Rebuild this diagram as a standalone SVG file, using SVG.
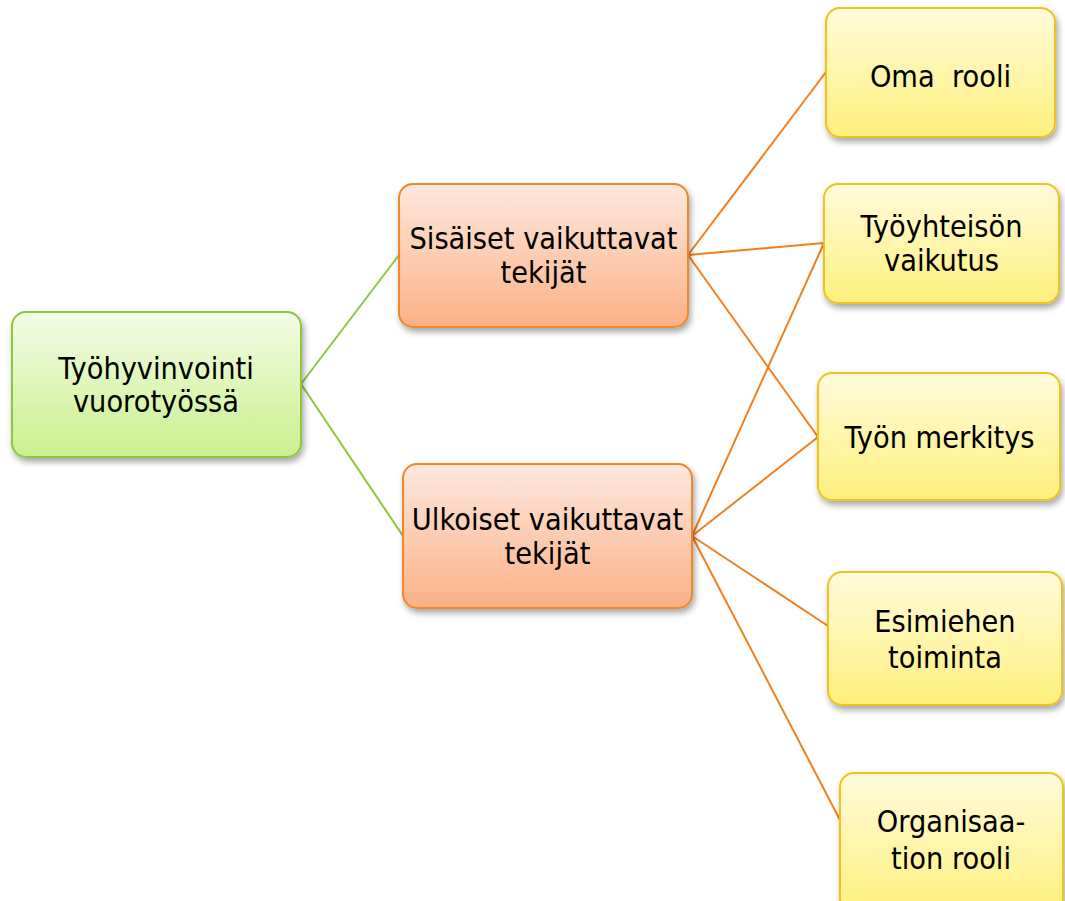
<svg xmlns="http://www.w3.org/2000/svg" width="1065" height="901" viewBox="0 0 1065 901">
<defs>
<linearGradient id="gGreen" x1="0" y1="0" x2="0" y2="1"><stop offset="0" stop-color="#f3fce6"/><stop offset="1" stop-color="#c9f08c"/></linearGradient>
<linearGradient id="gOrange" x1="0" y1="0" x2="0" y2="1"><stop offset="0" stop-color="#fde8de"/><stop offset="1" stop-color="#fbb186"/></linearGradient>
<linearGradient id="gYellow" x1="0" y1="0" x2="0" y2="1"><stop offset="0" stop-color="#fffbdc"/><stop offset="1" stop-color="#fff07c"/></linearGradient>
<filter id="sh" x="-10%" y="-10%" width="130%" height="140%"><feDropShadow dx="2" dy="4" stdDeviation="3" flood-color="#000" flood-opacity="0.35"/></filter>
<style>
text{font-family:"DejaVu Sans","Verdana",sans-serif;font-size:31px;fill:#000;text-anchor:middle;white-space:pre}
.green{fill:url(#gGreen);stroke:#8dc63f;stroke-width:2}
.orange{fill:url(#gOrange);stroke:#f0882a;stroke-width:2}
.yellow{fill:url(#gYellow);stroke:#efc21e;stroke-width:2}
.lg{stroke:#8dc63f;stroke-width:2;fill:none}
.lo{stroke:#f07f1f;stroke-width:2;fill:none}
</style>
</defs>
<rect width="1065" height="901" fill="#fff"/>
<g id="connectors">
<line class="lg" x1="301" y1="384" x2="399" y2="255"/>
<line class="lg" x1="301" y1="384" x2="403" y2="536"/>
<line class="lo" x1="688" y1="255" x2="826" y2="72"/>
<line class="lo" x1="688" y1="255" x2="824" y2="243"/>
<line class="lo" x1="688" y1="255" x2="818" y2="437"/>
<line class="lo" x1="692" y1="536" x2="824" y2="243"/>
<line class="lo" x1="692" y1="536" x2="818" y2="437"/>
<line class="lo" x1="692" y1="536" x2="828" y2="626"/>
<line class="lo" x1="692" y1="536" x2="840" y2="820"/>
</g>
<g id="root">
<rect class="green" x="12" y="312" width="289" height="145" rx="14" filter="url(#sh)"/>
<text transform="translate(156 379) scale(0.88 1)">Työhyvinvointi</text>
<text transform="translate(156 412) scale(0.88 1)">vuorotyössä</text>
</g>
<g id="sisaiset">
<rect class="orange" x="399" y="184" width="289" height="143" rx="14" filter="url(#sh)"/>
<text transform="translate(543.5 249) scale(0.88 1)">Sisäiset vaikuttavat</text>
<text transform="translate(543.5 283) scale(0.88 1)">tekijät</text>
</g>
<g id="ulkoiset">
<rect class="orange" x="403" y="464" width="289" height="144" rx="14" filter="url(#sh)"/>
<text transform="translate(547.5 530) scale(0.88 1)">Ulkoiset vaikuttavat</text>
<text transform="translate(547.5 564) scale(0.88 1)">tekijät</text>
</g>
<g id="oma">
<rect class="yellow" x="826" y="8" width="229" height="129" rx="14" filter="url(#sh)"/>
<text transform="translate(940.5 87) scale(0.88 1)">Oma  rooli</text>
</g>
<g id="tyoyhteison">
<rect class="yellow" x="824" y="184" width="235" height="119" rx="14" filter="url(#sh)"/>
<text transform="translate(941.5 237) scale(0.88 1)">Työyhteisön</text>
<text transform="translate(941.5 271) scale(0.88 1)">vaikutus</text>
</g>
<g id="merkitys">
<rect class="yellow" x="818" y="373" width="242" height="127" rx="14" filter="url(#sh)"/>
<text transform="translate(939.5 448) scale(0.88 1)">Työn merkitys</text>
</g>
<g id="esimiehen">
<rect class="yellow" x="828" y="572" width="234" height="133" rx="14" filter="url(#sh)"/>
<text transform="translate(945 632) scale(0.88 1)">Esimiehen</text>
<text transform="translate(945 668) scale(0.88 1)">toiminta</text>
</g>
<g id="organisaatio">
<rect class="yellow" x="840" y="773" width="223" height="140" rx="14" filter="url(#sh)"/>
<text transform="translate(951 832) scale(0.88 1)">Organisaa-</text>
<text transform="translate(951 869) scale(0.88 1)">tion rooli</text>
</g>
</svg>
